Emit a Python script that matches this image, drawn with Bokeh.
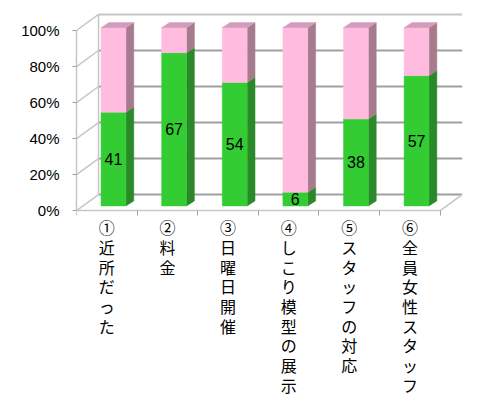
from bokeh.plotting import figure
from bokeh.models import FixedTicker, Range1d
from bokeh.core.properties import value
from bokeh.embed import file_html
from bokeh.resources import INLINE

# ---- data ----
categories = ["①近所だった", "②料金", "③日曜日開催", "④しこり模型の展示", "⑤スタッフの対応", "⑥全員女性スタッフ"]
green_counts = [41, 67, 54, 6, 38, 57]
pink_counts = [37, 11, 24, 72, 40, 21]
y_ticks = [0, 20, 40, 60, 80, 100]
y_tick_labels = ["0%", "20%", "40%", "60%", "80%", "100%"]

# ---- styling constants (3D look) ----
DX, DY = 0.363, 8.9          # depth of the walls (data units)
BOFF, BW = 0.11, 0.41        # bar x offset from category centre, bar width
BY0, BS = 2.6, 0.99          # bar front face baseline offset and scale
BDX, BDY = 0.13, 2.8         # bar depth
GREEN, GREEN_SIDE = "#33CC33", "#2A8A2A"
PINK, PINK_SIDE, PINK_TOP = "#FFBCDF", "#A67B8E", "#D49CBC"
GRID, EDGE = "#A0A0A0", "#C6C6C6"

n = len(categories)
pct_green = [g / (g + p) * 100 for g, p in zip(green_counts, pink_counts)]

p = figure(width=485, height=401, output_backend="svg", toolbar_location=None,
           x_range=Range1d(0, 6.5), y_range=Range1d(-106, 110),
           min_border_left=76, min_border_right=15, min_border_top=12, min_border_bottom=0)
p.outline_line_color = None
p.xgrid.visible = False
p.ygrid.visible = False
p.background_fill_color = "white"

# back wall gridlines
gx0 = [DX] * len(y_ticks)
gx1 = [n + DX] * len(y_ticks)
gy = [t + DY for t in y_ticks]
p.segment(x0=gx0[:-1], y0=gy[:-1], x1=gx1[:-1], y1=gy[:-1], line_color=GRID, line_width=2)
p.segment(x0=[DX], y0=[gy[-1]], x1=[n + DX], y1=[gy[-1]], line_color=EDGE, line_width=2)
# left wall diagonals
p.segment(x0=[0] * len(y_ticks), y0=y_ticks, x1=gx0, y1=gy, line_color=EDGE, line_width=1.5)
# back-left vertical edge
p.segment(x0=[DX], y0=[DY], x1=[DX], y1=[100 + DY], line_color=EDGE, line_width=1.5)
# floor right edge
p.segment(x0=[n], y0=[0], x1=[n + DX], y1=[DY], line_color=EDGE, line_width=1.5)

# bars
lefts = [i + 0.5 + BOFF - BW / 2 for i in range(n)]
rights = [l + BW for l in lefts]
g_top = [BY0 + g * BS for g in pct_green]
full_top = [BY0 + 100 * BS for _ in range(n)]
base = [BY0 for _ in range(n)]

def side(bottoms, tops):
    xs, ys = [], []
    for r, b, t in zip(rights, bottoms, tops):
        xs.append([r, r + BDX, r + BDX, r])
        ys.append([b, b + BDY, t + BDY, t])
    return xs, ys

xs, ys = side(base, g_top)
p.patches(xs, ys, fill_color=GREEN_SIDE, line_color=GREEN_SIDE, line_width=0.5)
xs, ys = side(g_top, full_top)
p.patches(xs, ys, fill_color=PINK_SIDE, line_color=PINK_SIDE, line_width=0.5)
p.quad(left=lefts, right=rights, bottom=base, top=g_top, fill_color=GREEN, line_color=GREEN, line_width=0.5)
p.quad(left=lefts, right=rights, bottom=g_top, top=full_top, fill_color=PINK, line_color=PINK, line_width=0.5)
txs = [[l, l + BDX, r + BDX, r] for l, r in zip(lefts, rights)]
tys = [[t, t + BDY, t + BDY, t] for t in full_top]
p.patches(txs, tys, fill_color=PINK_TOP, line_color=PINK_TOP, line_width=0.5)

# value labels
p.text(x=[(l + r) / 2 for l, r in zip(lefts, rights)],
       y=[BY0 + g * BS / 2 for g in pct_green],
       text=[str(v) for v in green_counts],
       text_align="center", text_baseline="middle",
       text_font=value("Liberation Sans"), text_font_size="16px", text_color="black")

# category labels (vertical writing, one character per line)
centers = [i + 0.5 for i in range(n)]
p.text(x=centers, y=[-2.6] * n, text=["\n".join(list(c)) for c in categories],
       text_align="center", text_baseline="top",
       text_font=value("Noto Sans CJK JP"), text_font_size="16px",
       text_line_height=0.82, text_color="black")

# y axis
p.yaxis.ticker = FixedTicker(ticks=y_ticks)
p.yaxis.major_label_overrides = {t: s for t, s in zip(y_ticks, y_tick_labels)}
p.yaxis.bounds = (0, 100)
p.yaxis.axis_line_color = EDGE
p.yaxis.axis_line_width = 1.5
p.yaxis.major_tick_line_color = "#A0A0A0"
p.yaxis.major_tick_out = 4
p.yaxis.major_tick_in = 0
p.yaxis.minor_tick_line_color = None
p.yaxis.major_label_standoff = 13
p.yaxis.major_label_text_font = "Liberation Sans"
p.yaxis.major_label_text_font_size = "15px"
p.yaxis.major_label_text_color = "black"

# x axis at y = 0 with ticks at the category boundaries
p.xaxis.fixed_location = 0
p.xaxis.ticker = FixedTicker(ticks=list(range(n + 1)))
p.xaxis.major_label_overrides = {t: "" for t in range(n + 1)}
p.xaxis.major_label_standoff = 0
p.xaxis.bounds = (0, n)
p.xaxis.axis_line_color = EDGE
p.xaxis.axis_line_width = 1.5
p.xaxis.major_tick_line_color = "#A0A0A0"
p.xaxis.major_tick_out = 5
p.xaxis.major_tick_in = 0
p.xaxis.minor_tick_line_color = None

open("out.html", "w").write(file_html(p, INLINE))
